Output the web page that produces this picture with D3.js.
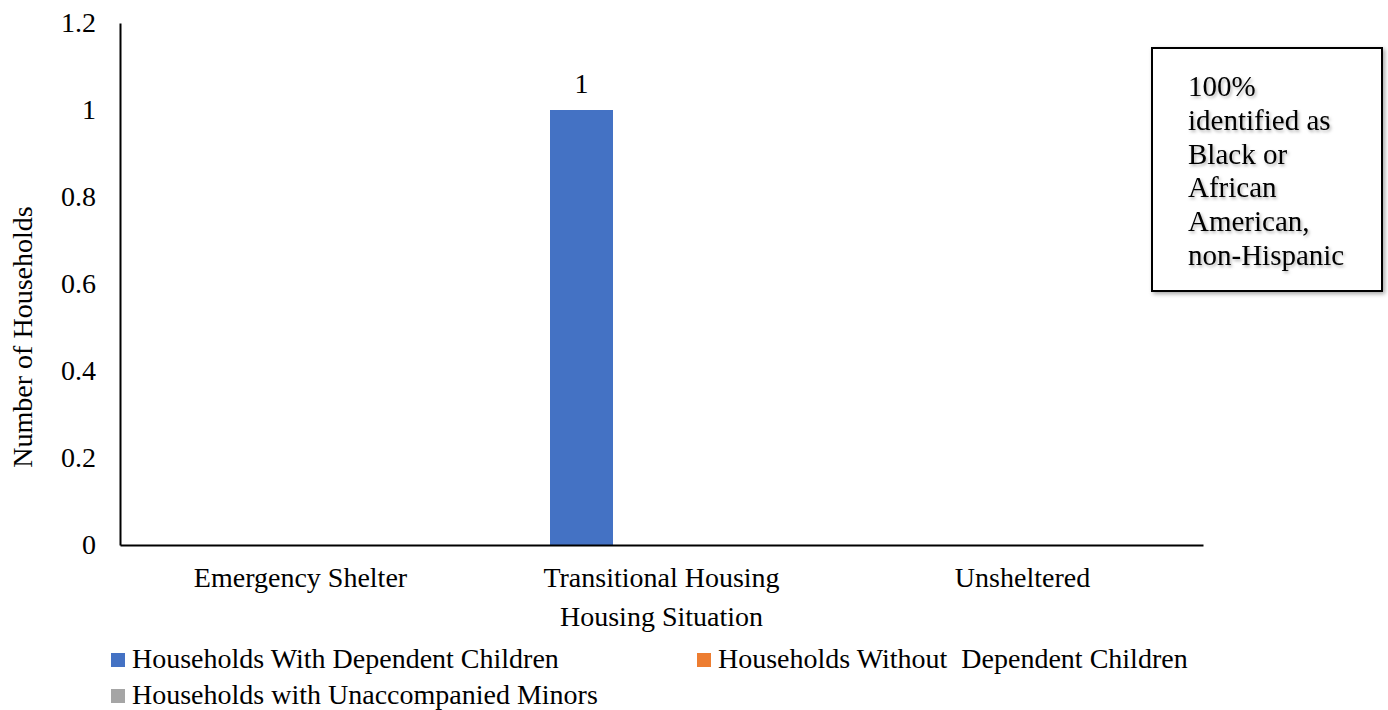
<!DOCTYPE html>
<html>
<head>
<meta charset="utf-8">
<script src="https://cdn.jsdelivr.net/npm/d3@7"></script>
<style>
  body { margin: 0; background: #fff; }
  svg text { font-family: "Liberation Serif", "Times New Roman", serif; fill: #000; }
</style>
</head>
<body>
<svg id="chart" width="1388" height="710"></svg>
<script>
const categories = ["Emergency Shelter", "Transitional Housing", "Unsheltered"];
const seriesNames = [
    "Households With Dependent Children",
    "Households Without  Dependent Children",
    "Households with Unaccompanied Minors"
];
const withChildren = [0, 1, 0];
const withoutChildren = [0, 0, 0];
const unaccompanied = [0, 0, 0];
const yTicks = [0, 0.2, 0.4, 0.6, 0.8, 1, 1.2];
const noteLines = ["100%", "identified as", "Black or", "African", "American,", "non-Hispanic"];

const COLORS = ['#4472C4', '#ED7D31', '#A5A5A5'];
const FONT_SIZE = '28px';

const margin = { left: 120, right: 185, top: 23, bottom: 165 };
const width = 1388, height = 710;

const svg = d3.select('#chart');

const x = d3.scaleBand()
    .domain(categories)
    .range([margin.left, width - margin.right])
    .padding(0);

// series inside each category (Excel clustered layout)
const xInner = d3.scaleBand()
    .domain(seriesNames)
    .range([0, x.bandwidth()])
    .paddingInner(0.2125)
    .paddingOuter(0.8625);

const y = d3.scaleLinear()
    .domain([0, 1.2])
    .range([height - margin.bottom, margin.top]);

const allSeries = [withChildren, withoutChildren, unaccompanied];
var bars = [];
categories.forEach((cat, i) => {
    seriesNames.forEach((s, j) => {
        bars.push({ cat: cat, series: s, value: allSeries[j][i], color: COLORS[j] });
    });
});

// bars
svg.append('g').selectAll('rect')
    .data(bars.filter(d => d.value > 0))
    .enter()
    .append('rect')
    .attr('x', d => x(d.cat) + xInner(d.series))
    .attr('y', d => y(d.value))
    .attr('width', xInner.bandwidth())
    .attr('height', d => y(0) - y(d.value))
    .style('fill', d => d.color);

// data labels
svg.append('g').selectAll('text')
    .data(bars.filter(d => d.value > 0))
    .enter()
    .append('text')
    .attr('x', d => x(d.cat) + xInner(d.series) + xInner.bandwidth() / 2)
    .attr('y', d => y(d.value) - 17)
    .attr('text-anchor', 'middle')
    .attr('font-size', FONT_SIZE)
    .text(d => d.value);

// y axis
const yAxis = svg.append('g')
    .attr('transform', 'translate(' + margin.left + ',0)')
    .call(d3.axisLeft(y).tickValues(yTicks).tickSize(0).tickPadding(24).tickFormat(d3.format('~g')));
yAxis.select('.domain').attr('stroke', '#000').attr('stroke-width', 2);
yAxis.selectAll('text')
    .attr('font-size', FONT_SIZE)
    .attr('fill', '#000');

// x axis
const xAxis = svg.append('g')
    .attr('transform', 'translate(0,' + y(0) + ')')
    .call(d3.axisBottom(x).tickSize(0).tickPadding(22));
xAxis.select('.domain').attr('stroke', '#000').attr('stroke-width', 2);
xAxis.selectAll('text')
    .attr('font-size', FONT_SIZE)
    .attr('fill', '#000');

// axis titles
svg.append('text')
    .attr('transform', 'translate(32,337) rotate(-90)')
    .attr('text-anchor', 'middle')
    .attr('font-size', FONT_SIZE)
    .text('Number of Households');

svg.append('text')
    .attr('x', (margin.left + width - margin.right) / 2)
    .attr('y', 626)
    .attr('text-anchor', 'middle')
    .attr('font-size', FONT_SIZE)
    .text('Housing Situation');

// legend
const legendPos = [
    { x: 111, y: 653 },
    { x: 697, y: 653 },
    { x: 111, y: 689 }
];
const legend = svg.append('g').selectAll('g')
    .data(seriesNames)
    .enter()
    .append('g')
    .attr('transform', (d, i) => 'translate(' + legendPos[i].x + ',' + legendPos[i].y + ')');
legend.append('rect')
    .attr('width', 14)
    .attr('height', 14)
    .style('fill', (d, i) => COLORS[i]);
legend.append('text')
    .attr('x', 21)
    .attr('y', 15)
    .attr('font-size', FONT_SIZE)
    .style('white-space', 'pre')
    .text(d => d);

// note box
const defs = svg.append('defs');
const filt = defs.append('filter').attr('id', 'shadow').attr('x', '-10%').attr('y', '-10%').attr('width', '130%').attr('height', '130%');
filt.append('feDropShadow').attr('dx', 2).attr('dy', 2).attr('stdDeviation', 2).attr('flood-color', '#000').attr('flood-opacity', 0.35);
const tfilt = defs.append('filter').attr('id', 'textShadow').attr('x', '-10%').attr('y', '-20%').attr('width', '130%').attr('height', '150%');
tfilt.append('feDropShadow').attr('dx', 1.5).attr('dy', 2).attr('stdDeviation', 1.5).attr('flood-color', '#000').attr('flood-opacity', 0.3);

svg.append('rect')
    .attr('x', 1152)
    .attr('y', 48)
    .attr('width', 230)
    .attr('height', 243)
    .style('fill', '#fff')
    .style('stroke', '#000')
    .style('stroke-width', 2)
    .attr('filter', 'url(#shadow)');

svg.append('g')
    .attr('filter', 'url(#textShadow)')
    .selectAll('text')
    .data(noteLines)
    .enter()
    .append('text')
    .attr('x', 1188)
    .attr('y', (d, i) => 96 + i * 33.8)
    .attr('font-size', '29px')
    .text(d => d);
</script>
</body>
</html>
